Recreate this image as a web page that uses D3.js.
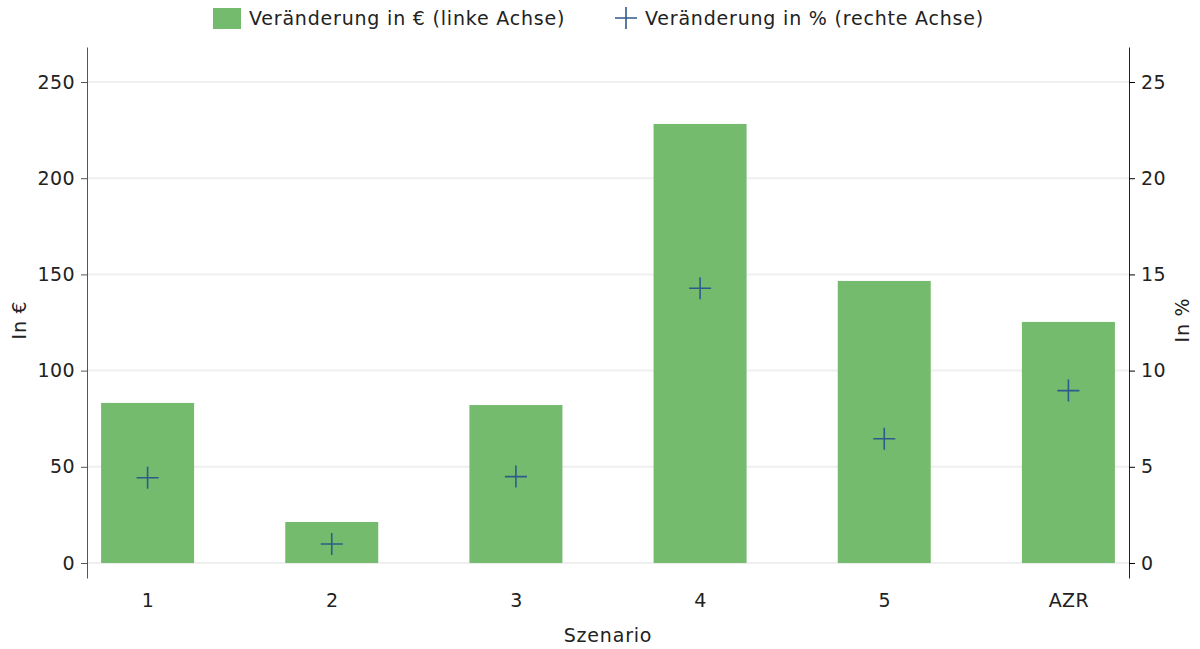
<!DOCTYPE html>
<html>
<head>
<meta charset="utf-8">
<script src="https://cdn.jsdelivr.net/npm/d3@7"></script>
<style>
  body { margin: 0; background: #fff; }
  svg { display: block; font-family: "DejaVu Sans", sans-serif; }
</style>
</head>
<body>
<div id="chart"></div>
<script>
// Données
const scenarios = ["1", "2", "3", "4", "5", "AZR"];
const veraenderungEuro = [83.2, 21.3, 82.1, 228.2, 146.6, 125.3];
const veraenderungProzent = [4.43, 0.99, 4.49, 14.28, 6.46, 8.96];
const ticksEuro = [0, 50, 100, 150, 200, 250];
const ticksProzent = [0, 5, 10, 15, 20, 25];

const width = 1200;
const height = 649;
const margin = { top: 47, right: 71, bottom: 71, left: 87 };

const green = "#74bb6e";
const blue = "#2f5b8c";
const fontSize = 19;
const spacing = 0.8;

const svg = d3.select("#chart")
    .append("svg")
    .attr("width", width)
    .attr("height", height);

// Échelles
const scaleX = d3.scalePoint()
    .domain(scenarios)
    .range([margin.left, width - margin.right])
    .padding(0.329);

const barW = scaleX.step() * 0.505;

const scaleY = d3.scaleLinear()
    .domain([-7.8, 268.2])
    .range([height - margin.bottom, margin.top]);

const scaleY2 = d3.scaleLinear()
    .domain([-0.78, 26.82])
    .range([height - margin.bottom, margin.top]);

// Grille
svg.append("g")
    .selectAll("line")
    .data(ticksEuro)
    .join("line")
    .attr("x1", margin.left)
    .attr("x2", width - margin.right)
    .attr("y1", d => scaleY(d))
    .attr("y2", d => scaleY(d))
    .attr("stroke", "#efefef")
    .attr("stroke-width", 2);

// Barres
svg.append("g")
    .selectAll("rect")
    .data(scenarios)
    .join("rect")
    .attr("x", d => scaleX(d) - barW / 2)
    .attr("width", barW)
    .attr("y", (d, i) => scaleY(veraenderungEuro[i]))
    .attr("height", (d, i) => scaleY(0) - scaleY(veraenderungEuro[i]))
    .attr("fill", green);

// Marqueurs (croix)
const crossPath = "M-11,0H11M0,-11V11";
svg.append("g")
    .selectAll("path")
    .data(scenarios)
    .join("path")
    .attr("transform", (d, i) => `translate(${scaleX(d)},${scaleY2(veraenderungProzent[i])})`)
    .attr("d", crossPath)
    .attr("stroke", blue)
    .attr("stroke-width", 1.6)
    .attr("fill", "none");

// Axes
const axisLeft = svg.append("g")
    .attr("transform", `translate(${margin.left},0)`)
    .call(d3.axisLeft(scaleY).tickValues(ticksEuro).tickSize(6).tickPadding(6).tickSizeOuter(0));
axisLeft.select(".domain").attr("stroke", "#555");
axisLeft.selectAll(".tick line").attr("stroke", "#555");

const axisRight = svg.append("g")
    .attr("transform", `translate(${width - margin.right},0)`)
    .call(d3.axisRight(scaleY2).tickValues(ticksProzent).tickSize(6).tickPadding(6).tickSizeOuter(0));
axisRight.select(".domain").attr("stroke", "#222");

const axisBottom = svg.append("g")
    .attr("transform", `translate(0,${height - margin.bottom})`)
    .call(d3.axisBottom(scaleX).tickSize(0).tickPadding(16));
axisBottom.select(".domain").remove();

svg.selectAll(".tick text")
    .attr("font-family", "DejaVu Sans, sans-serif")
    .attr("font-size", fontSize)
    .attr("letter-spacing", 0.4)
    .attr("fill", "#222");

// Titres d'axes
svg.append("text")
    .attr("transform", `translate(26,${(scaleY(0) + margin.top) / 2 + 15}) rotate(-90)`)
    .attr("text-anchor", "middle")
    .attr("font-size", fontSize)
    .attr("letter-spacing", spacing)
    .attr("fill", "#222")
    .text("In €");

svg.append("text")
    .attr("transform", `translate(1189,${(scaleY(0) + margin.top) / 2 + 15}) rotate(-90)`)
    .attr("text-anchor", "middle")
    .attr("font-size", fontSize)
    .attr("letter-spacing", spacing)
    .attr("fill", "#222")
    .text("In %");

svg.append("text")
    .attr("x", (margin.left + width - margin.right) / 2)
    .attr("y", 642)
    .attr("text-anchor", "middle")
    .attr("font-size", fontSize)
    .attr("letter-spacing", spacing)
    .attr("fill", "#222")
    .text("Szenario");

// Légende
const legend = svg.append("g");
legend.append("rect")
    .attr("x", 213).attr("y", 8)
    .attr("width", 28).attr("height", 21)
    .attr("fill", green);
legend.append("text")
    .attr("x", 249).attr("y", 25)
    .attr("font-size", fontSize)
    .attr("letter-spacing", spacing)
    .attr("fill", "#222")
    .text("Veränderung in € (linke Achse)");
legend.append("path")
    .attr("transform", "translate(626,18)")
    .attr("d", crossPath)
    .attr("stroke", blue)
    .attr("stroke-width", 1.6)
    .attr("fill", "none");
legend.append("text")
    .attr("x", 645).attr("y", 25)
    .attr("font-size", fontSize)
    .attr("letter-spacing", spacing)
    .attr("fill", "#222")
    .text("Veränderung in % (rechte Achse)");
</script>
</body>
</html>
